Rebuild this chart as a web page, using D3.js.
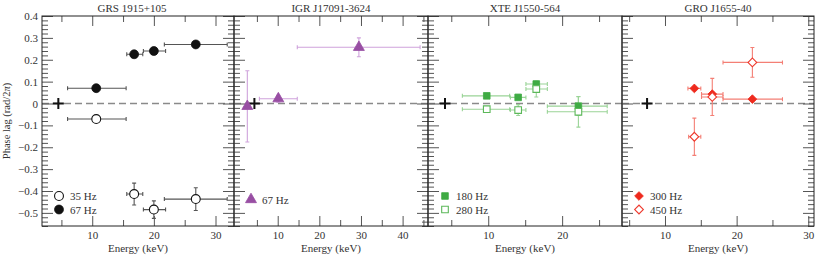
<!DOCTYPE html>
<html>
<head>
<meta charset="utf-8">
<script src="https://cdn.jsdelivr.net/npm/d3@7"></script>
<style>
  body { margin: 0; background: #fff; }
</style>
</head>
<body>
<script>
// phase lag (rad/2pi) vs energy (keV); e0/e1 = energy band edges, d = lag error
const GRS_35 = [
  { e: 10.65, lag: -0.071, e0: 6.0, e1: 15.5, d: 0.012 },
  { e: 16.8, lag: -0.414, e0: 15.6, e1: 18.2, d: 0.05 },
  { e: 20.0, lag: -0.485, e0: 18.3, e1: 21.9, d: 0.04 },
  { e: 26.8, lag: -0.437, e0: 21.7, e1: 31.9, d: 0.052 },
];
const GRS_67 = [
  { e: 10.65, lag: 0.07, e0: 6.0, e1: 15.5, d: 0.008 },
  { e: 16.8, lag: 0.225, e0: 15.6, e1: 18.2, d: 0.008 },
  { e: 20.0, lag: 0.24, e0: 18.3, e1: 21.9, d: 0.008 },
  { e: 26.8, lag: 0.27, e0: 21.7, e1: 31.9, d: 0.01 },
];
const IGR_67 = [
  { e: 2.7, lag: -0.013, e0: 2.7, e1: 2.7, d: 0.163 },
  { e: 10.15, lag: 0.022, e0: 5.6, e1: 14.7, d: 0.016 },
  { e: 29.5, lag: 0.257, e0: 14.7, e1: 44.2, d: 0.043 },
];
const XTE_180 = [
  { e: 9.8, lag: 0.035, e0: 6.5, e1: 12.9, d: 0.008 },
  { e: 14.05, lag: 0.028, e0: 13.0, e1: 15.1, d: 0.01 },
  { e: 16.5, lag: 0.089, e0: 15.1, e1: 18.0, d: 0.012 },
  { e: 22.2, lag: -0.012, e0: 18.0, e1: 26.1, d: 0.043 },
];
const XTE_280 = [
  { e: 9.8, lag: -0.026, e0: 6.5, e1: 12.9, d: 0.012 },
  { e: 14.05, lag: -0.03, e0: 13.0, e1: 15.1, d: 0.025 },
  { e: 16.5, lag: 0.066, e0: 15.1, e1: 18.0, d: 0.036 },
  { e: 22.2, lag: -0.038, e0: 18.0, e1: 26.1, d: 0.07 },
];
const GRO_300 = [
  { e: 14.1, lag: 0.069, e0: 13.2, e1: 15.0, d: 0.008 },
  { e: 16.6, lag: 0.043, e0: 15.1, e1: 18.1, d: 0.01 },
  { e: 22.2, lag: 0.02, e0: 18.1, e1: 26.4, d: 0.008 },
];
const GRO_450 = [
  { e: 14.1, lag: -0.152, e0: 13.3, e1: 15.0, d: 0.085 },
  { e: 16.6, lag: 0.03, e0: 15.1, e1: 18.1, d: 0.085 },
  { e: 22.2, lag: 0.188, e0: 18.1, e1: 26.4, d: 0.068 },
];
// energy of the black "+" reference marker in each panel
const CROSS_E = [4.5, 4.4, 4.15, 7.5];
const Y_TICKS = [-0.5, -0.4, -0.3, -0.2, -0.1, 0, 0.1, 0.2, 0.3, 0.4];

const W = 830, H = 259;
const TOP = 16, BOTTOM = 226;
const FONT = '"Liberation Serif", "Times New Roman", serif';
const y = d3.scaleLinear().domain([-0.56, 0.4]).range([BOTTOM, TOP]);

const PANELS = [
  { title: "GRS 1915+105", left: 42, right: 234, dom: [1.85, 33], major: [10, 20, 30], minor: [5, 15, 25],
    titleX: 132, rightTicks: true,
    series: [
      { name: "35 Hz", data: GRS_35, shape: "circle", open: true, col: "#111", err: "#555" },
      { name: "67 Hz", data: GRS_67, shape: "circle", open: false, col: "#111", err: "#555" },
    ], legendY: [196, 209.5] },
  { title: "IGR J17091-3624", left: 234, right: 428, dom: [-0.5, 46.1], major: [10, 20, 30, 40], minor: [5, 15, 25, 35, 45],
    rightTicks: true,
    series: [
      { name: "67 Hz", data: IGR_67, shape: "triangle", open: false, col: "#984ea3", err: "#cfa3dc" },
    ], legendY: [199.5] },
  { title: "XTE J1550-564", left: 428, right: 622, dom: [1.85, 28.1], major: [10, 20], minor: [5, 15, 25],
    rightTicks: false,
    series: [
      { name: "180 Hz", data: XTE_180, shape: "square", open: false, col: "#3fab44", err: "#9ad497" },
      { name: "280 Hz", data: XTE_280, shape: "square", open: true, col: "#5cb85a", err: "#9ad497" },
    ], legendY: [196, 209.5] },
  { title: "GRO J1655-40", left: 622, right: 814, dom: [4, 30.8], major: [10, 20, 30], minor: [5, 15, 25],
    rightTicks: true,
    series: [
      { name: "300 Hz", data: GRO_300, shape: "diamond", open: false, col: "#ee2a1e", err: "#f47f75" },
      { name: "450 Hz", data: GRO_450, shape: "diamond", open: true, col: "#ee3a2e", err: "#f47f75" },
    ], legendY: [196, 209.5] },
];

const symbols = {
  circle: d3.symbol(d3.symbolCircle, 62)(),
  triangle: d3.symbol(d3.symbolTriangle, 52)(),
  square: d3.symbol(d3.symbolSquare, 44)(),
  diamond: d3.symbol(d3.symbolSquare, 38)(),
};

const svg = d3.select("body").append("svg").attr("width", W).attr("height", H);

const drawMarker = (g, s, cx, cy) => {
  g.append("path")
    .attr("d", symbols[s.shape])
    .attr("transform", `translate(${cx},${cy})${s.shape === "diamond" ? " rotate(45)" : ""}`)
    .attr("fill", s.open ? "#fff" : s.col)
    .attr("stroke", s.col)
    .attr("stroke-width", s.open ? 1.1 : 0.8);
};

const label = (sel, size) =>
  sel.style("font-family", FONT).style("font-size", size).style("font-weight", "normal").attr("fill", "#333");

PANELS.forEach((p, pi) => {
  const x = d3.scaleLinear().domain(p.dom).range([p.left, p.right]);
  const g = svg.append("g");

  // zero line
  g.append("line")
    .attr("x1", p.left).attr("x2", p.right)
    .attr("y1", y(0)).attr("y2", y(0))
    .attr("stroke", "#8a8a8a").attr("stroke-width", 1.3)
    .attr("stroke-dasharray", "7,4");

  // axes: inward ticks
  const tickStyle = (sel) => {
    sel.attr("font-family", null).attr("font-size", null);
    sel.select(".domain").remove();
    sel.selectAll(".tick line").attr("stroke", "#555");
    sel.selectAll("text").call(label, "11px");
  };
  g.append("g").attr("transform", `translate(0,${BOTTOM})`)
    .call(d3.axisBottom(x).tickValues(p.major).tickSize(-10).tickPadding(5).tickFormat(d3.format("d")))
    .call(tickStyle);
  g.append("g").attr("transform", `translate(0,${BOTTOM})`)
    .call(d3.axisBottom(x).tickValues(p.minor).tickSize(-6).tickFormat(""))
    .call(tickStyle);
  g.append("g").attr("transform", `translate(0,${TOP})`)
    .call(d3.axisTop(x).tickValues(p.major).tickSize(-10).tickFormat(""))
    .call(tickStyle);
  g.append("g").attr("transform", `translate(0,${TOP})`)
    .call(d3.axisTop(x).tickValues(p.minor).tickSize(-6).tickFormat(""))
    .call(tickStyle);

  const minorY = d3.range(-0.56, 0.401, 0.02).map((v) => +v.toFixed(2))
    .filter((v) => Math.abs(v * 10 - Math.round(v * 10)) > 1e-6);
  const yFmt = (d) => (d === 0 ? "0" : d3.format(".1f")(d));
  g.append("g").attr("transform", `translate(${p.left},0)`)
    .call(d3.axisLeft(y).tickValues(Y_TICKS).tickSize(-11).tickPadding(4)
      .tickFormat(pi === 0 ? yFmt : ""))
    .call(tickStyle);
  g.append("g").attr("transform", `translate(${p.left},0)`)
    .call(d3.axisLeft(y).tickValues(minorY).tickSize(-6).tickFormat(""))
    .call(tickStyle);
  if (p.rightTicks) {
    g.append("g").attr("transform", `translate(${p.right},0)`)
      .call(d3.axisRight(y).tickValues(Y_TICKS).tickSize(-11).tickFormat(""))
      .call(tickStyle);
    g.append("g").attr("transform", `translate(${p.right},0)`)
      .call(d3.axisRight(y).tickValues(minorY).tickSize(-6).tickFormat(""))
      .call(tickStyle);
  }

  // frame
  g.append("rect")
    .attr("x", p.left).attr("y", TOP)
    .attr("width", p.right - p.left).attr("height", BOTTOM - TOP)
    .attr("fill", "none").attr("stroke", "#222").attr("stroke-width", 1);

  // titles and labels
  g.append("text")
    .attr("x", p.titleX || (p.left + p.right) / 2).attr("y", 12)
    .attr("text-anchor", "middle")
    .call(label, "11px")
    .text(p.title);
  g.append("text")
    .attr("x", (p.left + p.right) / 2).attr("y", 252)
    .attr("text-anchor", "middle")
    .call(label, "11px")
    .text("Energy (keV)");

  // reference cross
  const cx = x(CROSS_E[pi]), cy = y(0);
  g.append("path")
    .attr("d", `M${cx - 5.5},${cy}H${cx + 5.5}M${cx},${cy - 5.5}V${cy + 5.5}`)
    .attr("stroke", "#111").attr("stroke-width", 2);

  // error bars
  const cap = 2;
  p.series.forEach((s) => {
    const eg = g.append("g").attr("stroke", s.err).attr("stroke-width", 1.1).attr("fill", "none");
    s.data.forEach((d) => {
      const px = x(d.e), py = y(d.lag);
      if (d.e1 > d.e0) {
        eg.append("path").attr("d",
          `M${x(d.e0)},${py}H${x(d.e1)}M${x(d.e0)},${py - cap}V${py + cap}M${x(d.e1)},${py - cap}V${py + cap}`);
      }
      const ya = y(d.lag + d.d), yb = y(d.lag - d.d);
      eg.append("path").attr("d",
        `M${px},${ya}V${yb}M${px - cap},${ya}H${px + cap}M${px - cap},${yb}H${px + cap}`);
    });
  });
  // markers
  p.series.forEach((s) => {
    s.data.forEach((d) => drawMarker(g, s, x(d.e), y(d.lag)));
  });

  // legend
  p.series.forEach((s, si) => {
    const ly = p.legendY[si];
    drawMarker(g, s, p.left + 17, ly);
    g.append("text")
      .attr("x", p.left + 28).attr("y", ly + 4)
      .call(label, "11px")
      .text(s.name);
  });
});

// y axis label
svg.append("text")
  .attr("transform", `translate(10,${(TOP + BOTTOM) / 2}) rotate(-90)`)
  .attr("text-anchor", "middle")
  .call(label, "10.5px")
  .html('Phase lag (rad/2<tspan font-style="italic">π</tspan>)');
</script>
</body>
</html>
